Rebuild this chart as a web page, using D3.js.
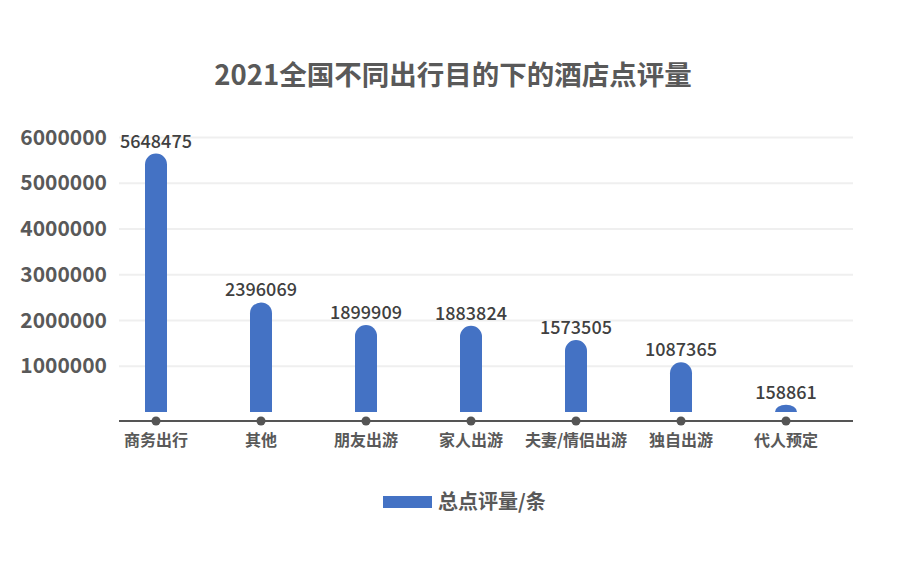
<!DOCTYPE html>
<html>
<head>
<meta charset="utf-8">
<script src="https://cdn.jsdelivr.net/npm/d3@7/dist/d3.min.js"></script>
<style>
  html, body { margin: 0; padding: 0; background: #fff; }
  svg { display: block; font-family: "Noto Sans CJK SC", "Noto Sans", sans-serif; }
</style>
</head>
<body>
<svg id="chart" width="900" height="566"></svg>
<script>
const titleText = "2021全国不同出行目的下的酒店点评量";
const categories = ["商务出行", "其他", "朋友出游", "家人出游", "夫妻/情侣出游", "独自出游", "代人预定"];
const values = [5648475, 2396069, 1899909, 1883824, 1573505, 1087365, 158861];
const yTicks = [1000000, 2000000, 3000000, 4000000, 5000000, 6000000];
const seriesName = "总点评量/条";

const svg = d3.select("#chart");
const W = 900, H = 566;
const textColor = "#595959";
const barColor = "#4472c4";

const x = d3.scalePoint().domain(categories).range([156, 786]);
const y = d3.scaleLinear().domain([0, 6000000]).range([412, 137.5]);
const plotLeft = 119, plotRight = 853, axisY = 421;
const barW = 22;

svg.append("rect").attr("width", W).attr("height", H).attr("fill", "#fff");

// title
svg.append("text")
  .attr("x", 453).attr("y", 85)
  .attr("text-anchor", "middle")
  .attr("font-size", 27.5).attr("font-weight", 700)
  .attr("fill", textColor)
  .text(titleText);

// gridlines
svg.append("g").selectAll("line").data(yTicks).join("line")
  .attr("x1", plotLeft).attr("x2", plotRight)
  .attr("y1", d => y(d)).attr("y2", d => y(d))
  .attr("stroke", "#efefef").attr("stroke-width", 2);

// y axis labels
const yAxis = d3.axisLeft(y).tickValues(yTicks).tickSize(0).tickPadding(0).tickFormat(d3.format("d"));
const gy = svg.append("g").attr("transform", `translate(107,0)`).call(yAxis);
gy.select(".domain").remove();
gy.selectAll("text")
  .attr("font-size", 21).attr("font-weight", 700)
  .attr("fill", textColor)
  .attr("font-family", "\"Noto Sans CJK SC\", \"Noto Sans\", sans-serif");

// bars with rounded tops
function barPath(cx, top, bottom) {
  const h = bottom - top;
  const rx = barW / 2;
  const ry = Math.min(rx, h);
  const l = cx - rx, r = cx + rx;
  return `M${l},${bottom} L${l},${top + ry} A${rx},${ry} 0 0 1 ${cx},${top} A${rx},${ry} 0 0 1 ${r},${top + ry} L${r},${bottom} Z`;
}
svg.append("g").selectAll("path").data(categories).join("path")
  .attr("d", (c, i) => barPath(x(c), y(values[i]), y(0)))
  .attr("fill", barColor);

// value labels
svg.append("g").selectAll("text").data(categories).join("text")
  .attr("x", c => x(c))
  .attr("y", (c, i) => Math.max(y(values[i]) - 6, y(6000000) + 2))
  .attr("text-anchor", "middle")
  .attr("font-size", 18).attr("font-weight", 500)
  .attr("fill", "#404040")
  .text((c, i) => values[i]);

// category axis
const xAxis = d3.axisBottom(x).tickSize(0).tickPadding(0);
const gx = svg.append("g").attr("transform", `translate(0,${axisY})`).call(xAxis);
gx.select(".domain").remove();
gx.selectAll("text").remove();
svg.append("line")
  .attr("x1", plotLeft).attr("x2", plotRight)
  .attr("y1", axisY).attr("y2", axisY)
  .attr("stroke", "#555").attr("stroke-width", 2);
svg.append("g").selectAll("circle").data(categories).join("circle")
  .attr("cx", c => x(c)).attr("cy", axisY).attr("r", 4.5)
  .attr("fill", "#555");
svg.append("g").selectAll("text").data(categories).join("text")
  .attr("x", c => x(c)).attr("y", 446)
  .attr("text-anchor", "middle")
  .attr("font-size", 16).attr("font-weight", 700)
  .attr("fill", textColor)
  .text(c => c);

// legend
const lg = svg.append("g");
lg.append("rect").attr("x", 383).attr("y", 496).attr("width", 49).attr("height", 12).attr("fill", barColor);
lg.append("text").attr("x", 438).attr("y", 509)
  .attr("font-size", 20).attr("font-weight", 700)
  .attr("fill", textColor)
  .text(seriesName);
</script>
</body>
</html>
